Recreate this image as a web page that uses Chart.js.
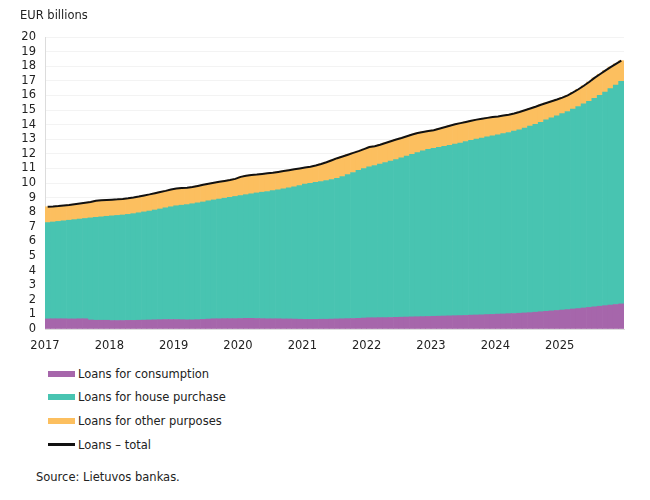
<!DOCTYPE html>
<html>
<head>
<meta charset="utf-8">
<script src="https://cdn.jsdelivr.net/npm/chart.js@4"></script>
<style>
  body { margin: 0; background: #fff; font-family: "DejaVu Sans", Verdana, sans-serif; color: #222; }
  #wrap { position: relative; width: 650px; height: 500px; }
  #box { position: absolute; left: 0; top: 0; width: 650px; height: 360px; }
  #unit { position: absolute; left: 20px; top: 8px; font-size: 11.5px; }
  #legend { position: absolute; left: 48px; top: 362px; list-style: none; margin: 0; padding: 0; font-size: 11.5px; }
  #legend li { height: 23.6px; display: flex; align-items: center; }
  #legend .sw { width: 27px; margin-right: 3px; }
  #source { position: absolute; left: 36px; top: 470px; font-size: 11.5px; }
</style>
</head>
<body>
<div id="wrap">
  <div id="box"><canvas id="chart"></canvas></div>
  <div id="unit">EUR billions</div>
  <ul id="legend"></ul>
  <div id="source">Source: Lietuvos bankas.</div>
</div>
<script>
// monthly, Jan 2017 - Dec 2025, EUR billions
const years = ["2017", "2018", "2019", "2020", "2021", "2022", "2023", "2024", "2025"];

const consumption = [
  0.69, 0.70, 0.70, 0.70, 0.69, 0.69, 0.70, 0.70, 0.62, 0.60, 0.60, 0.60,
  0.58, 0.58, 0.58, 0.59, 0.59, 0.60, 0.61, 0.62, 0.63, 0.64, 0.65, 0.65,
  0.65, 0.64, 0.63, 0.63, 0.64, 0.66, 0.68, 0.70, 0.70, 0.71, 0.71, 0.71,
  0.72, 0.73, 0.73, 0.72, 0.71, 0.70, 0.70, 0.70, 0.69, 0.69, 0.68, 0.67,
  0.66, 0.66, 0.66, 0.67, 0.67, 0.68, 0.69, 0.70, 0.71, 0.72, 0.73, 0.75,
  0.77, 0.77, 0.78, 0.78, 0.79, 0.80, 0.81, 0.82, 0.83, 0.84, 0.85, 0.86,
  0.87, 0.88, 0.89, 0.90, 0.91, 0.92, 0.93, 0.95, 0.96, 0.97, 0.99, 1.00,
  1.02, 1.03, 1.05, 1.06, 1.08, 1.10, 1.12, 1.15, 1.18, 1.21, 1.24, 1.27,
  1.30, 1.33, 1.37, 1.40, 1.44, 1.48, 1.52, 1.56, 1.60, 1.64, 1.68, 1.72
];

const housePurchase = [
  6.60, 6.63, 6.67, 6.71, 6.76, 6.80, 6.83, 6.87, 6.99, 7.05, 7.08, 7.12,
  7.17, 7.20, 7.23, 7.26, 7.31, 7.36, 7.41, 7.46, 7.52, 7.58, 7.65, 7.72,
  7.79, 7.84, 7.89, 7.95, 8.00, 8.04, 8.10, 8.14, 8.20, 8.25, 8.31, 8.37,
  8.42, 8.47, 8.53, 8.60, 8.66, 8.72, 8.78, 8.84, 8.91, 8.98, 9.06, 9.15,
  9.26, 9.32, 9.38, 9.43, 9.50, 9.56, 9.63, 9.74, 9.87, 10.00, 10.13, 10.23,
  10.33, 10.43, 10.52, 10.62, 10.71, 10.80, 10.91, 11.02, 11.13, 11.24, 11.35, 11.44,
  11.50, 11.56, 11.62, 11.68, 11.75, 11.82, 11.91, 11.97, 12.04, 12.11, 12.17, 12.23,
  12.28, 12.35, 12.41, 12.49, 12.57, 12.66, 12.78, 12.87, 12.98, 13.11, 13.22, 13.33,
  13.45, 13.57, 13.69, 13.84, 13.98, 14.12, 14.28, 14.44, 14.62, 14.82, 15.02, 15.24
];

const otherPurposes = [
  1.08, 1.06, 1.05, 1.05, 1.05, 1.06, 1.07, 1.08, 1.09, 1.13, 1.14, 1.12,
  1.11, 1.10, 1.10, 1.10, 1.10, 1.11, 1.13, 1.14, 1.15, 1.16, 1.16, 1.18,
  1.18, 1.18, 1.16, 1.14, 1.16, 1.18, 1.17, 1.18, 1.18, 1.18, 1.18, 1.20,
  1.28, 1.30, 1.29, 1.26, 1.25, 1.24, 1.22, 1.22, 1.22, 1.21, 1.20, 1.18,
  1.14, 1.14, 1.16, 1.20, 1.25, 1.32, 1.38, 1.38, 1.36, 1.34, 1.32, 1.34,
  1.36, 1.32, 1.32, 1.34, 1.36, 1.38, 1.36, 1.36, 1.36, 1.34, 1.30, 1.26,
  1.25, 1.28, 1.31, 1.34, 1.36, 1.36, 1.34, 1.34, 1.34, 1.32, 1.30, 1.29,
  1.26, 1.24, 1.22, 1.21, 1.21, 1.22, 1.20, 1.20, 1.20, 1.16, 1.14, 1.12,
  1.10, 1.10, 1.14, 1.18, 1.24, 1.32, 1.40, 1.45, 1.48, 1.48, 1.46, 1.42
];

const total = [
  8.37, 8.39, 8.42, 8.46, 8.50, 8.55, 8.60, 8.65, 8.70, 8.78, 8.82, 8.84,
  8.86, 8.88, 8.91, 8.95, 9.00, 9.07, 9.15, 9.22, 9.30, 9.38, 9.46, 9.55,
  9.62, 9.66, 9.68, 9.72, 9.80, 9.88, 9.95, 10.02, 10.08, 10.14, 10.20, 10.28,
  10.42, 10.50, 10.55, 10.58, 10.62, 10.66, 10.70, 10.76, 10.82, 10.88, 10.94, 11.00,
  11.06, 11.12, 11.20, 11.30, 11.42, 11.56, 11.70, 11.82, 11.94, 12.06, 12.18, 12.32,
  12.46, 12.52, 12.62, 12.74, 12.86, 12.98, 13.08, 13.20, 13.32, 13.42, 13.50, 13.56,
  13.62, 13.72, 13.82, 13.92, 14.02, 14.10, 14.18, 14.26, 14.34, 14.40, 14.46, 14.52,
  14.56, 14.62, 14.68, 14.76, 14.86, 14.98, 15.10, 15.22, 15.36, 15.48, 15.60, 15.72,
  15.85, 16.00, 16.20, 16.42, 16.66, 16.92, 17.20, 17.45, 17.70, 17.94, 18.16, 18.38
];

const firstYear = Number(years[0]);

// x position of month i = middle of that month on a year scale
function toPoints(values) {
  return values.map((v, i) => ({ x: firstYear + i / 12 + 1 / 24, y: v }));
}

const font = { family: "'DejaVu Sans', Verdana, sans-serif", size: 11.5 };

function barSet(label, values, color) {
  return {
    type: "bar",
    label: label,
    data: toPoints(values),
    backgroundColor: color,
    borderWidth: 0,
    barPercentage: 1,
    categoryPercentage: 1,
    order: 1,
  };
}

const ctx = document.getElementById("chart").getContext("2d");

const chart = new Chart(ctx, {
  data: {
    datasets: [
      barSet("Loans for consumption", consumption, "#a666ab"),
      barSet("Loans for house purchase", housePurchase, "#48c4b1"),
      barSet("Loans for other purposes", otherPurposes, "#fcbf5f"),
      {
        type: "line",
        label: "Loans \u2013 total",
        data: toPoints(total),
        borderColor: "#111",
        borderWidth: 2,
        pointRadius: 0,
        tension: 0,
        order: 0,
      },
    ],
  },
  options: {
    responsive: true,
    maintainAspectRatio: false,
    animation: false,
    layout: { padding: { top: 37, right: 26, left: 0, bottom: 0 } },
    plugins: { legend: { display: false }, tooltip: { enabled: false } },
    scales: {
      x: {
        type: "linear",
        stacked: true,
        offset: false,
        min: firstYear,
        max: firstYear + years.length,
        grid: { display: false },
        border: { color: "#dcdcdc" },
        afterFit: (scale) => { scale.height = 31; },
        ticks: {
          stepSize: 1,
          autoSkip: false,
          maxRotation: 0,
          padding: 2,
          color: "#222",
          font: font,
          callback: (v) => years.includes(String(v)) ? String(v) : "",
        },
      },
      y: {
        stacked: true,
        min: 0,
        max: 20,
        grid: { color: "#f3f3f3", drawTicks: false },
        border: { color: "#dcdcdc" },
        afterFit: (scale) => { scale.width = 45; },
        ticks: { stepSize: 1, autoSkip: false, padding: 9, color: "#222", font: font },
      },
    },
  },
});

// legend below the chart, one item per line
const legend = document.getElementById("legend");
chart.data.datasets.forEach((ds) => {
  const li = document.createElement("li");
  const isLine = ds.type === "line";
  const color = isLine ? ds.borderColor : ds.backgroundColor;
  li.innerHTML = `<span class="sw" style="height:${isLine ? 3 : 6}px;background:${color}"></span>${ds.label}`;
  legend.appendChild(li);
});
</script>
</body>
</html>
